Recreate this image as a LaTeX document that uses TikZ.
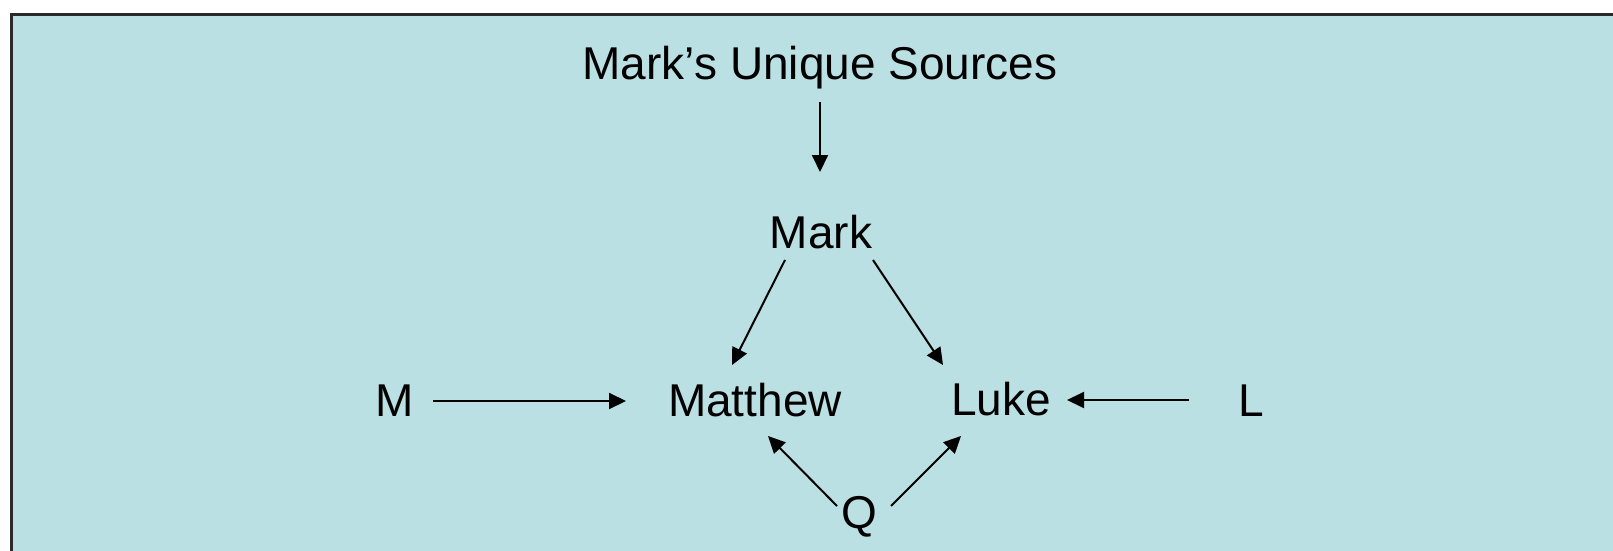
\documentclass[tikz,border=0pt]{standalone}
\usepackage{fontspec}
\setmainfont{Liberation Sans}
\usetikzlibrary{arrows.meta,calc}
\definecolor{panel}{HTML}{BBE0E3}
\definecolor{frame}{HTML}{2A2A2A}
\tikzset{
  label/.style={inner sep=0pt, anchor=base, font=\fontsize{46}{55}\selectfont, text=black},
  link/.style={line width=2pt, -{Triangle[length=17pt,width=16pt]}}
}
\begin{document}
\begin{tikzpicture}[x=1pt,y=-1pt]
  \useasboundingbox (0,0) rectangle (1613,551);
  \clip (0,0) rectangle (1613,551);
  % slide panel running off the right and bottom edges
  \draw[line width=3pt, draw=frame, fill=panel] (11.5,14.5) rectangle (1700,700);

  % labels
  \node[label] (src)  at (820,79)    {Mark’s Unique Sources};
  \node[label] (mark) at (821,248)   {Mark};
  \node[label] (mt)   at (755,416)   {Matthew};
  \node[label] (lk)   at (1001,415)  {Luke};
  \node[label] (m)    at (395,416)   {M};
  \node[label] (l)    at (1251,416)  {L};
  \node[label] (q)    at (859.5,528) {Q};

  % dependencies
  \draw[link] ($(src.base)+(0,23)$)    -- ($(mark.base)+(-1,-76)$);
  \draw[link] ($(mark.base)+(-36,12)$) -- ($(mt.base)+(-23,-51)$);
  \draw[link] ($(mark.base)+(52,12)$)  -- ($(lk.base)+(-58,-50)$);
  \draw[link] ($(m.base)+(38,-15)$)    -- ($(mt.base)+(-129,-15)$);
  \draw[link] ($(l.base)+(-62,-16)$)   -- ($(lk.base)+(66,-15)$);
  \draw[link] ($(q.base)+(-22.5,-22)$) -- ($(mt.base)+(13,20)$);
  \draw[link] ($(q.base)+(31.5,-22)$)  -- ($(lk.base)+(-40,21)$);
\end{tikzpicture}
\end{document}
